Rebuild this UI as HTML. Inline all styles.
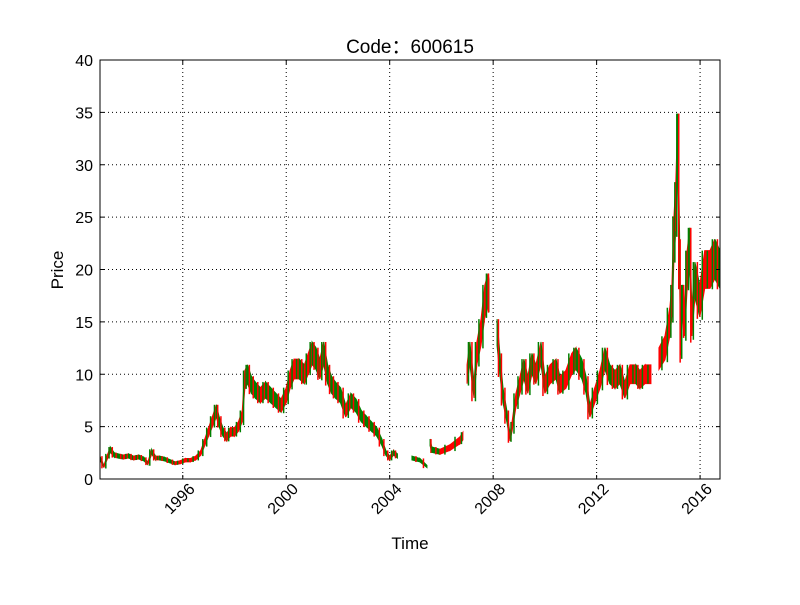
<!DOCTYPE html>
<html><head><meta charset="utf-8"><style>
body{margin:0;background:#fff;width:800px;height:600px;overflow:hidden}
svg text{font-family:"Liberation Sans","DejaVu Sans","Noto Sans CJK SC",sans-serif}
</style></head><body>
<svg id="chart" width="800" height="600" xmlns="http://www.w3.org/2000/svg">
<rect width="800" height="600" fill="#fff"/>
<g id="grid"></g><g id="marks"></g><g id="axes"></g>
<rect x="100" y="60" width="620" height="419" fill="none" stroke="#000" stroke-width="1"/>
<text x="410" y="53" font-size="19" text-anchor="middle">Code：600615</text>
<text x="410" y="549" font-size="17" text-anchor="middle">Time</text>
<text x="63" y="270" font-size="17" text-anchor="middle" transform="rotate(-90 63 270)">Price</text>
</svg>
<script>
const yTicks=[0,5,10,15,20,25,30,35,40];
const xTicks=[1996,2000,2004,2008,2012,2016];
const times=[
1992.8,1992.95,1993.1,1993.2,1993.35,1993.5,1993.7,1993.9,1994.1,1994.3,
1994.5,1994.65,1994.8,1994.95,1995.1,1995.3,1995.5,1995.7,1995.9,1996.1,
1996.3,1996.5,1996.7,1996.85,1997.0,1997.15,1997.3,1997.4,1997.55,1997.7,
1997.85,1998.0,1998.15,1998.3,1998.4,1998.5,1998.65,1998.8,1999.0,1999.2,
1999.4,1999.6,1999.8,2000.0,2000.15,2000.3,2000.5,2000.7,2000.85,2001.0,
2001.15,2001.3,2001.45,2001.6,2001.75,2001.9,2002.1,2002.3,2002.5,2002.7,
2002.9,2003.1,2003.3,2003.5,2003.7,2003.85,2004.0,2004.15,2004.3,null,
2004.86,2005.17,2005.44,null,2005.56,2005.63,2005.94,2006.33,2006.72,2006.83,
null,2006.99,2007.1,2007.26,2007.37,2007.53,2007.68,2007.8,2007.84,null,
2008.15,2008.26,2008.38,2008.53,2008.65,2008.73,2008.88,2009.04,2009.19,2009.34,
2009.5,2009.65,2009.85,2010.0,2010.2,2010.43,2010.58,2010.81,2011.04,2011.2,
2011.43,2011.59,2011.74,2011.93,2012.13,2012.32,2012.51,2012.71,2012.9,2013.09,
2013.29,2013.52,2013.67,2013.87,2014.1,null,2014.41,2014.64,2014.83,2014.91,
2014.99,2015.06,2015.14,2015.21,2015.25,2015.33,2015.4,2015.5,2015.6,2015.68,
2015.8,2015.99,2016.18,2016.38,2016.57,2016.77];
const closes=[
2,1.2,2.2,2.8,2.3,2.2,2.1,2.2,2.0,2.1,
1.9,1.5,2.6,2.0,2.0,1.9,1.7,1.5,1.6,1.8,
1.8,2.0,2.5,3.5,4.5,5.5,6.5,5.5,4.5,4.0,
4.5,4.5,5.0,6.0,9.5,10.0,9.0,8.5,8.0,8.5,
8.0,7.5,7.0,8.0,9.5,10.5,10.5,10.0,11.0,12.0,
11.5,10.5,12.0,10.0,9.0,8.5,8.0,6.5,7.5,7.0,
6.0,5.5,5.0,4.5,3.5,2.5,2.0,2.5,2.2,null,
2.0,1.8,1.2,null,3.5,2.8,2.6,3.0,3.7,4.1,
null,10,12,8.5,12,14,17,18,17.5,null,
14,11,8,6,4,5,7.5,9,10.5,9,
11,10,12,9,10,10.5,9,9.5,11,11.5,
10.5,9,6.5,8,9.5,11.5,10,9.5,10,8.5,
10,10,9.5,10,10,null,11.5,12.5,15,17,
23,26,32,21,13,17,15,20,22,15,
19,17,20,20,21,20];
const X=t=>100+(t-1992.8)*(620/(2016.77-1992.8));
const Y=v=>479-v*(419/40);
const ns='http://www.w3.org/2000/svg';
function mk(tag,attrs,parent){const e=document.createElementNS(ns,tag);for(const k in attrs)e.setAttribute(k,attrs[k]);parent.appendChild(e);return e;}
const grid=document.getElementById('grid'),axes=document.getElementById('axes'),marks=document.getElementById('marks');
yTicks.forEach(v=>{
 const l=mk('line',{x1:100,x2:720,y1:Y(v),y2:Y(v),stroke:'#000','stroke-dasharray':'1,3','stroke-width':1},grid);
 
 
 mk('line',{x1:100,x2:104,y1:Y(v),y2:Y(v),stroke:'#000'},axes);
 mk('line',{x1:716,x2:720,y1:Y(v),y2:Y(v),stroke:'#000'},axes);
 const t=mk('text',{x:93,y:Y(v)+6,'font-size':16,'text-anchor':'end'},axes);t.textContent=v;
 
 
});
xTicks.forEach(v=>{
 const x=X(v);
 const l=mk('line',{x1:x,x2:x,y1:60,y2:479,stroke:'#000','stroke-dasharray':'1,3','stroke-width':1},grid);
 
 
 mk('line',{x1:x,x2:x,y1:475,y2:479,stroke:'#000'},axes);
 mk('line',{x1:x,x2:x,y1:60,y2:64,stroke:'#000'},axes);
 const ax=x+13,ay=490;
 const t=mk('text',{x:ax,y:ay,'font-size':16,'text-anchor':'end',transform:`rotate(-45 ${ax} ${ay})`},axes);t.textContent=v;
 
 
});
for(let i=1;i<times.length;i++){
 if(times[i]==null||times[i-1]==null||closes[i]==null||closes[i-1]==null)continue;
 const up=closes[i]>=closes[i-1];
 const col=up?'#ff0000':'#008000';
 const x0=X(times[i-1]),x1=X(times[i]);
 const s0=closes[i-1]*0.09,s1=closes[i]*0.09;
 const p=mk('polygon',{points:`${x0},${Y(closes[i-1]+s0)} ${x1},${Y(closes[i]+s1)} ${x1},${Y(closes[i]-s1)} ${x0},${Y(closes[i-1]-s0)}`,fill:col,stroke:col,'stroke-width':1},marks);
 
 
 const hi=Math.max(closes[i],closes[i-1])+Math.max(s0,s1),lo=Math.min(closes[i],closes[i-1])-Math.max(s0,s1);
 const w=mk('line',{x1:(x0+x1)/2,x2:(x0+x1)/2,y1:Y(hi),y2:Y(lo),stroke:up?'#008000':'#ff0000','stroke-width':1.5},marks);
 
 
}
</script>
</body></html>
